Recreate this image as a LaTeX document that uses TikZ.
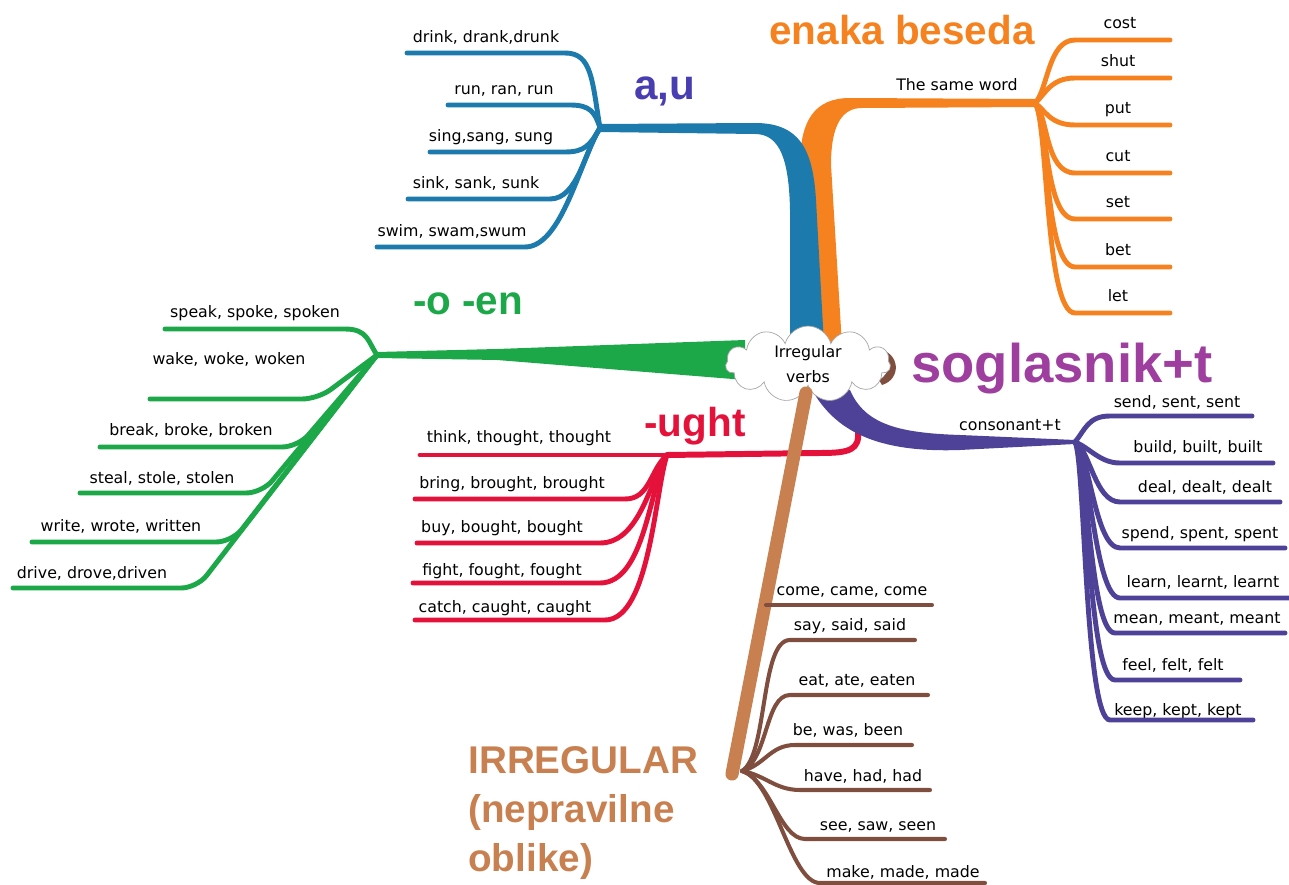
\documentclass[tikz,border=0pt]{standalone}
\usepackage{fontspec}
\setmainfont{DejaVu Sans}
\newfontfamily\headfont{Liberation Sans}
\usetikzlibrary{shapes.symbols}

\definecolor{aublue}{RGB}{28,122,172}
\definecolor{auviolet}{RGB}{72,62,178}
\definecolor{enorange}{RGB}{246,130,31}
\definecolor{oengreen}{RGB}{28,168,72}
\definecolor{ughtred}{RGB}{228,18,58}
\definecolor{conspurple}{RGB}{78,66,152}
\definecolor{sogmagenta}{RGB}{158,62,158}
\definecolor{irrtan}{RGB}{200,128,80}
\definecolor{irrbrown}{RGB}{128,78,62}

\tikzset{
  leaf/.style={font=\fontsize{9}{11}\selectfont, inner sep=0pt, anchor=base},
  head/.style={font=\headfont\bfseries\fontsize{23}{28}\selectfont, inner sep=0pt, anchor=base},
  twig/.style={line width=2.8pt, line cap=round},
  auline/.style={twig, draw=aublue},
  enline/.style={twig, draw=enorange},
  oenline/.style={twig, draw=oengreen, rounded corners=9pt},
  ughtline/.style={twig, draw=ughtred},
  consline/.style={twig, draw=conspurple},
  irrline/.style={twig, line width=2.3pt, draw=irrbrown}
}

\begin{document}
\begin{tikzpicture}[x=0.02cm, y=-0.02cm]
  \useasboundingbox (0,0) rectangle (1289,885);
  % forks
  \coordinate (au) at (600,128);
  \coordinate (en) at (1035,103);
  \coordinate (oen) at (377,355);
  \coordinate (ught) at (667,455);
  \coordinate (ught-s) at (858,430);
  \coordinate (cons) at (1075,442);
  \coordinate (irr-s) at (806,393);
  \coordinate (irr) at (742,771);
  \coordinate (irr-b) at (732,774);

  % thick trunks from the cloud
  \fill[enorange] (1035,99) -- (850,98) .. controls (815,98) and (800,120) .. (800,165)
    -- (805,345) -- (842,345) -- (831,165) .. controls (831,125) and (842,108) .. (862,108)
    -- (1035,107) -- cycle;
  \fill[aublue] (600,124) -- (755,123) .. controls (800,123) and (813,150) .. (816,200)
    -- (824,345) -- (790,345) -- (790,210) .. controls (789,160) and (780,134) .. (755,134)
    -- (600,132) -- cycle;
  \fill[oengreen] (377,352) -- (497,349) -- (745,340) -- (745,380) -- (497,360) -- (377,358) -- cycle;
  \draw[ughtline, line width=3.4pt] (ught-s) .. controls (860,450) and (850,453) .. (820,453) -- (ught);
  \fill[conspurple] (850,390) .. controls (865,425) and (900,433) .. (960,435) -- (1075,440)
    -- (1075,444) -- (960,450) .. controls (875,453) and (835,430) .. (812,390) -- cycle;
  \fill[irrbrown] (878,349) .. controls (900,352) and (902,379) .. (882,385) -- (879,380)
    .. controls (892,373) and (891,357) .. (876,353) -- cycle;

  % centre
  \node[cloud, cloud puffs=11, aspect=2.3, draw=gray!70, fill=white, inner sep=0pt,
    minimum width=3.3cm, minimum height=1.4cm, align=center,
    font=\fontsize{9}{14}\selectfont] (verbs) at (808,364) {Irregular\\verbs};
  \draw[irrtan, line width=7.5pt, line cap=round] (irr-s) -- (irr-b);

  % a,u
  \node[head, text=auviolet, font=\headfont\bfseries\fontsize{24}{28}\selectfont] (auh) at (665,100) {a,u};
  \node[leaf] (drink) at (486,43) {drink, drank,drunk};
  \node[leaf] (run) at (504,95) {run, ran, run};
  \node[leaf] (sing) at (491,142) {sing,sang, sung};
  \node[leaf] (sink) at (476,189) {sink, sank, sunk};
  \node[leaf] (swim) at (452,237) {swim, swam,swum};
  \coordinate (drink-e) at (407,53);
  \coordinate (run-e) at (448,105);
  \coordinate (sing-e) at (430,152);
  \coordinate (sink-e) at (408,199);
  \coordinate (swim-e) at (377,247);
  \draw[auline] (au) .. controls (592,80) and (592,53) .. (565,53) -- (drink-e);
  \draw[auline] (au) .. controls (595,112) and (590,105) .. (570,105) -- (run-e);
  \draw[auline] (au) .. controls (590,145) and (585,152) .. (565,152) -- (sing-e);
  \draw[auline] (au) .. controls (585,150) and (578,199) .. (550,199) -- (sink-e);
  \draw[auline] (au) .. controls (580,160) and (562,247) .. (525,247) -- (swim-e);

  % enaka beseda
  \node[head, text=enorange] (enh) at (902,45) {enaka beseda};
  \node[leaf] (same) at (957,91) {The same word};
  \node[leaf] (cost) at (1120,29) {cost};
  \node[leaf] (shut) at (1118,67) {shut};
  \node[leaf] (put) at (1118,114) {put};
  \node[leaf] (cut) at (1118,162) {cut};
  \node[leaf] (set) at (1118,208) {set};
  \node[leaf] (bet) at (1118,256) {bet};
  \node[leaf] (let) at (1118,302) {let};
  \coordinate (cost-e) at (1170,40);
  \coordinate (shut-e) at (1170,78);
  \coordinate (put-e) at (1170,125);
  \coordinate (cut-e) at (1170,173);
  \coordinate (set-e) at (1170,219);
  \coordinate (bet-e) at (1170,267);
  \coordinate (let-e) at (1170,313);
  \draw[enline] (en) .. controls (1048,90) and (1048,40) .. (1075,40) -- (cost-e);
  \draw[enline] (en) .. controls (1045,95) and (1050,78) .. (1075,78) -- (shut-e);
  \draw[enline] (en) .. controls (1045,110) and (1050,125) .. (1075,125) -- (put-e);
  \draw[enline] (en) .. controls (1048,115) and (1045,173) .. (1075,173) -- (cut-e);
  \draw[enline] (en) .. controls (1048,120) and (1045,219) .. (1075,219) -- (set-e);
  \draw[enline] (en) .. controls (1048,120) and (1045,267) .. (1075,267) -- (bet-e);
  \draw[enline] (en) .. controls (1048,120) and (1045,313) .. (1075,313) -- (let-e);

  % -o -en
  \node[head, text=oengreen] (oenh) at (468,315) {-o -en};
  \node[leaf] (speak) at (255,318) {speak, spoke, spoken};
  \node[leaf] (wake) at (229,365) {wake, woke, woken};
  \node[leaf] (break) at (191,436) {break, broke, broken};
  \node[leaf] (steal) at (162,483) {steal, stole, stolen};
  \node[leaf] (write) at (121,531) {write, wrote, written};
  \node[leaf] (drive) at (92,578) {drive, drove,driven};
  \coordinate (speak-e) at (165,329);
  \coordinate (wake-e) at (150,399);
  \coordinate (break-e) at (100,447);
  \coordinate (steal-e) at (80,493);
  \coordinate (write-e) at (32,542);
  \coordinate (drive-e) at (13,588);
  \draw[auline, draw=oengreen] (oen) .. controls (368,342) and (368,329) .. (345,329) -- (speak-e);
  \draw[oenline] (oen) -- (318,399) -- (wake-e);
  \draw[oenline] (oen) -- (298,447) -- (break-e);
  \draw[oenline] (oen) -- (262,493) -- (steal-e);
  \draw[oenline] (oen) -- (232,542) -- (write-e);
  \draw[oenline] (oen) -- (197,588) -- (drive-e);

  % -ught
  \node[head, text=ughtred] (ughth) at (695,437) {-ught};
  \node[leaf] (think) at (519,442) {think, thought, thought};
  \node[leaf] (bring) at (512,488) {bring, brought, brought};
  \node[leaf] (buy) at (502,532) {buy, bought, bought};
  \node[leaf] (fight) at (502,575) {fight, fought, fought};
  \node[leaf] (catch) at (505,612) {catch, caught, caught};
  \coordinate (think-e) at (420,455);
  \coordinate (bring-e) at (415,499);
  \coordinate (buy-e) at (417,543);
  \coordinate (fight-e) at (413,583);
  \coordinate (catch-e) at (415,620);
  \draw[ughtline] (ught) -- (think-e);
  \draw[ughtline] (ught) .. controls (650,470) and (650,499) .. (625,499) -- (bring-e);
  \draw[ughtline] (ught) .. controls (650,480) and (640,543) .. (600,543) -- (buy-e);
  \draw[ughtline] (ught) .. controls (650,485) and (645,583) .. (600,583) -- (fight-e);
  \draw[ughtline] (ught) .. controls (655,490) and (650,620) .. (605,620) -- (catch-e);

  % soglasnik+t
  \node[head, text=sogmagenta, font=\headfont\bfseries\fontsize{31}{36}\selectfont] (consh) at (1062,382) {soglasnik+t};
  \node[leaf] (conso) at (1010,431) {consonant+t};
  \node[leaf] (send) at (1177,407) {send, sent, sent};
  \node[leaf] (build) at (1198,453) {build, built, built};
  \node[leaf] (deal) at (1205,492) {deal, dealt, dealt};
  \node[leaf] (spend) at (1200,538) {spend, spent, spent};
  \node[leaf] (learn) at (1203,587) {learn, learnt, learnt};
  \node[leaf] (mean) at (1197,623) {mean, meant, meant};
  \node[leaf] (feel) at (1173,670) {feel, felt, felt};
  \node[leaf] (keep) at (1178,715) {keep, kept, kept};
  \coordinate (send-e) at (1252,416);
  \coordinate (build-e) at (1273,463);
  \coordinate (deal-e) at (1280,502);
  \coordinate (spend-e) at (1285,548);
  \coordinate (learn-e) at (1289,598);
  \coordinate (mean-e) at (1285,633);
  \coordinate (feel-e) at (1240,680);
  \coordinate (keep-e) at (1253,720);
  \draw[consline] (cons) .. controls (1085,430) and (1088,416) .. (1110,416) -- (send-e);
  \draw[consline] (cons) .. controls (1090,448) and (1100,463) .. (1120,463) -- (build-e);
  \draw[consline] (cons) .. controls (1090,450) and (1095,502) .. (1120,502) -- (deal-e);
  \draw[consline] (cons) .. controls (1090,455) and (1095,548) .. (1120,548) -- (spend-e);
  \draw[consline] (cons) .. controls (1090,460) and (1095,598) .. (1120,598) -- (learn-e);
  \draw[consline] (cons) .. controls (1088,460) and (1090,633) .. (1115,633) -- (mean-e);
  \draw[consline] (cons) .. controls (1088,460) and (1088,680) .. (1115,680) -- (feel-e);
  \draw[consline] (cons) .. controls (1085,460) and (1085,720) .. (1110,720) -- (keep-e);

  % IRREGULAR
  \node[head, anchor=base west, align=left, text=irrtan, font=\headfont\bfseries\fontsize{22}{27.8}\selectfont] (irrh) at (468,871) {IRREGULAR\\(nepravilne\\oblike)};
  \node[leaf] (come) at (852,595) {come, came, come};
  \node[leaf] (say) at (850,630) {say, said, said};
  \node[leaf] (eat) at (857,685) {eat, ate, eaten};
  \node[leaf] (be) at (848,735) {be, was, been};
  \node[leaf] (have) at (863,781) {have, had, had};
  \node[leaf] (see) at (878,830) {see, saw, seen};
  \node[leaf] (make) at (903,877) {make, made, made};
  \coordinate (come-s) at (766,605);
  \coordinate (come-e) at (932,605);
  \coordinate (say-e) at (915,640);
  \coordinate (eat-e) at (928,695);
  \coordinate (be-e) at (912,745);
  \coordinate (have-e) at (930,790);
  \coordinate (see-e) at (945,839);
  \coordinate (make-e) at (985,883);
  \draw[irrline] (come-s) -- (come-e);
  \draw[irrline] (irr) .. controls (768,755) and (760,640) .. (790,640) -- (say-e);
  \draw[irrline] (irr) .. controls (768,760) and (765,695) .. (790,695) -- (eat-e);
  \draw[irrline] (irr) .. controls (765,765) and (770,745) .. (795,745) -- (be-e);
  \draw[irrline] (irr) .. controls (765,775) and (775,790) .. (800,790) -- (have-e);
  \draw[irrline] (irr) .. controls (770,780) and (780,839) .. (805,839) -- (see-e);
  \draw[irrline] (irr) .. controls (775,780) and (790,883) .. (820,883) -- (make-e);
\end{tikzpicture}
\end{document}
